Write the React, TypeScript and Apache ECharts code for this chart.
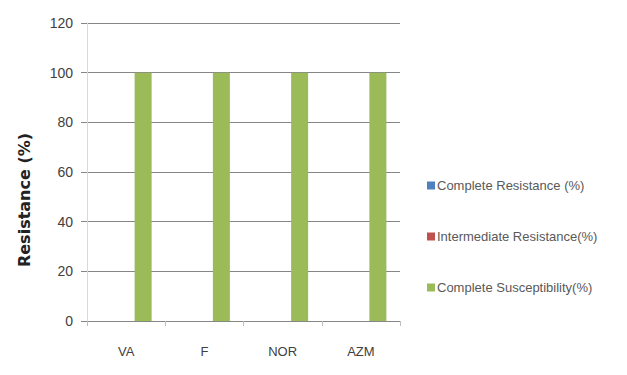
import React, { useEffect, useRef } from "react";
import * as echarts from "echarts";

const categories = ["VA", "F", "NOR", "AZM"];
const completeResistance = [0, 0, 0, 0];
const intermediateResistance = [0, 0, 0, 0];
const completeSusceptibility = [100, 100, 100, 100];
const seriesNames = [
  "Complete Resistance (%)",
  "Intermediate Resistance(%)",
  "Complete Susceptibility(%)",
];
const colors = ["#4F81BD", "#C0504D", "#9BBB59"];
const yTitle = "Resistance (%)";

const FONT = "'Liberation Sans Narrow', 'Liberation Sans', Arial, sans-serif";

export default function App() {
  const ref = useRef<HTMLDivElement>(null);
  useEffect(() => {
    if (!ref.current) return;
    const chart = echarts.init(ref.current, undefined, { renderer: "svg" });
    const data = [completeResistance, intermediateResistance, completeSusceptibility];
    chart.setOption({
      animation: false,
      backgroundColor: "#ffffff",
      grid: { left: 87, right: 227, top: 23, bottom: 54 },
      legend: {
        orient: "vertical",
        left: 422,
        top: 174,
        itemWidth: 8,
        itemHeight: 8,
        itemGap: 38,
        icon: "rect",
        textStyle: { fontFamily: FONT, fontSize: 13, color: "#595959", padding: [0, 0, 0, -3] },
        data: seriesNames,
      },
      graphic: [
        {
          type: "text",
          x: 24,
          y: 200,
          rotation: Math.PI / 2,
          style: {
            text: yTitle,
            fontFamily: "'DejaVu Sans', sans-serif",
            fontSize: 16,
            fontWeight: "bold",
            fill: "#222222",
            textAlign: "center",
            textVerticalAlign: "middle",
          },
        },
      ],
      xAxis: {
        type: "category",
        data: categories,
        axisLine: { lineStyle: { color: "#868686", width: 1 } },
        axisTick: { show: true, length: 5, lineStyle: { color: "#bfbfbf" } },
        axisLabel: { fontFamily: FONT, fontSize: 13, color: "#404040", margin: 24 },
      },
      yAxis: {
        type: "value",
        min: 0,
        max: 120,
        interval: 20,
        axisLine: { show: true, lineStyle: { color: "#d9d9d9" } },
        axisTick: { show: true, length: 6, lineStyle: { color: "#868686" } },
        axisLabel: { fontFamily: FONT, fontSize: 14, color: "#404040", margin: 14 },
        splitLine: { show: true, lineStyle: { color: "#868686", width: 1 } },
      },
      series: seriesNames.map((name, i) => ({
        name,
        type: "bar",
        data: data[i],
        barWidth: 17,
        barGap: "0%",
        itemStyle: { color: colors[i] },
      })),
    });
    return () => chart.dispose();
  }, []);
  return <div ref={ref} style={{ width: 627, height: 375, margin: -8 }} />;
}
